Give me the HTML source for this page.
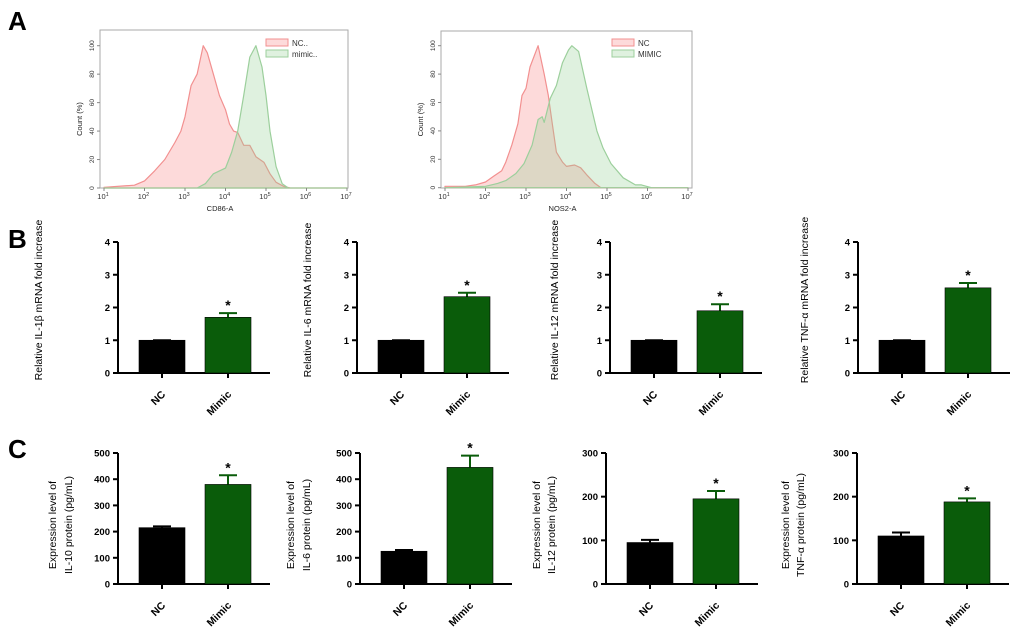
<!DOCTYPE html>
<html><head><meta charset="utf-8"><style>
html,body{margin:0;padding:0;background:#fff}
svg{display:block;font-family:"Liberation Sans",sans-serif}
</style></head><body>
<svg id="fig" width="1020" height="632" viewBox="0 0 1020 632">
<text x="8" y="30" font-size="26" font-weight="bold">A</text>
<text x="8" y="248" font-size="26" font-weight="bold">B</text>
<text x="8" y="458" font-size="26" font-weight="bold">C</text>
</svg>
<script>
// Histogram data: [log10 value, count %]
const h1NC=[[1,0.5],[1.5,1.5],[1.75,2],[2,5],[2.25,12],[2.5,20],[2.75,32],[2.9,40],[3.0,50],[3.15,72],[3.3,80],[3.45,100],[3.55,95],[3.7,80],[3.85,65],[4.0,55],[4.1,45],[4.2,40],[4.3,39],[4.45,30],[4.6,30],[4.75,22],[4.95,18],[5.1,10],[5.25,4],[5.45,1],[5.6,0],[7,0]];
const h1Mimic=[[1,0],[3.3,0],[3.5,3],[3.7,10],[3.85,12],[4.0,14],[4.15,25],[4.3,40],[4.45,65],[4.6,92],[4.75,100],[4.9,85],[5.0,65],[5.1,40],[5.25,15],[5.4,3],[5.55,0],[7,0]];
const h2NC=[[1,1],[1.5,1],[1.75,2],[2,4],[2.2,8],[2.4,12],[2.5,18],[2.65,30],[2.8,45],[2.9,65],[3.0,70],[3.1,85],[3.3,100],[3.45,80],[3.55,65],[3.65,45],[3.75,25],[3.9,18],[4.0,15],[4.2,16],[4.35,14],[4.5,9],[4.7,3],[4.85,0],[7,0]];
const h2Mimic=[[1,0],[2,1],[2.3,3],[2.5,5],[2.75,10],[2.95,17],[3.15,30],[3.3,48],[3.4,50],[3.45,46],[3.6,63],[3.75,72],[3.9,88],[4.05,97],[4.13,100],[4.3,96],[4.5,70],[4.75,40],[4.9,28],[5.1,17],[5.4,7],[5.7,2],[5.85,2],[6.1,0],[7,0]];
const histTicks=["0","20","40","60","80","100"];
const groups=["NC","Mimic"];
const bMeans=[[1,1.7],[1,2.33],[1,1.9],[1,2.6]];
const bErr=[[0,0.13],[0,0.12],[0,0.2],[0,0.15]];
const cMeans=[[215,380],[125,445],[95,195],[110,188]];
const cErr=[[5,35],[5,45],[6,18],[8,8]];
const bTicks=["0","1","2","3","4"];
const cTicks500=["0","100","200","300","400","500"];
const cTicks300=["0","100","200","300"];

const NS="http://www.w3.org/2000/svg";
const svg=document.getElementById('fig');
function mk(tag,attrs,parent,text){const e=document.createElementNS(NS,tag);for(const k in attrs)e.setAttribute(k,attrs[k]);if(text!==undefined)e.textContent=text;(parent||svg).appendChild(e);return e;}

function hist(cfg){
  const g=mk('g',{});
  
  
  const {l,r,t,b,x10,dec,y0,y100}=cfg;
  const xs=v=>x10+(v-1)*dec, ys=c=>y0-(c/100)*(y0-y100);
  const fr=mk('rect',{x:l,y:t,width:r-l,height:b-t,fill:'none',stroke:'#aaa','stroke-width':1},g);
  
  function curve(d,fill,stroke,name){
    let p='M'+xs(d[0][0])+','+ys(0);
    d.forEach(q=>p+=' L'+xs(q[0]).toFixed(1)+','+ys(q[1]).toFixed(1));
    p+=' L'+xs(d[d.length-1][0])+','+ys(0)+'Z';
    const e=mk('path',{d:p,fill:fill,stroke:stroke,'stroke-width':1.2,'stroke-linejoin':'round'},g);
    
  }
  curve(cfg.nc,'rgba(250,150,150,0.35)','#f29090','histogram-nc');
  curve(cfg.mi,'rgba(150,210,150,0.30)','#9ccf9c','histogram-mimic');
  histTicks.forEach((s,i)=>{const y=ys(+s);
    mk('line',{x1:l-3,x2:l,y1:y,y2:y,stroke:'#888'},g);
    const tx=mk('text',{x:l-6,y:y,'font-size':6.5,'text-anchor':'middle',fill:'#333',transform:`rotate(-90 ${l-6} ${y})`},g,s);
    });
  for(let k=1;k<=7;k++){const x=xs(k);
    mk('line',{x1:x,x2:x,y1:b,y2:b+3,stroke:'#888'},g);
    const tx=mk('text',{x:x-1,y:b+11,'font-size':7.5,'text-anchor':'middle',fill:'#333'},g);
    
    mk('tspan',{},tx,'10');mk('tspan',{dy:-3,'font-size':5.5},tx,String(k));}
  const yt=mk('text',{x:l-18,y:(t+b)/2+10,'font-size':7.5,'text-anchor':'middle',fill:'#222',transform:`rotate(-90 ${l-18} ${(t+b)/2+10})`},g,'Count (%)');
  
  const xt=mk('text',{x:(l+r)/2-4,y:b+23,'font-size':7.5,'text-anchor':'middle',fill:'#222'},g,cfg.xl);
  
  [[cfg.leg[0],'rgba(250,150,150,0.35)','#f29090',cfg.legs[0]],[cfg.leg[0],'rgba(150,210,150,0.30)','#9ccf9c',cfg.legs[1]]].forEach((e,i)=>{
    const y=cfg.leg[1]+i*11;
    const le=mk('g',{},g);
    mk('rect',{x:e[0],y:y-4,width:22,height:7,fill:e[1],stroke:e[2]},le);
    mk('text',{x:e[0]+26,y:y+3,'font-size':8,fill:'#333'},le,e[3]);});
}
hist({name:'histogram-cd86',l:100,r:348,t:30,b:188,x10:104,dec:40.5,y0:188,y100:45.7,nc:h1NC,mi:h1Mimic,xl:'CD86-A',leg:[266,43],legs:['NC..','mimic..']});
hist({name:'histogram-nos2',l:441,r:692,t:31,b:188,x10:445,dec:40.5,y0:187.7,y100:45.7,nc:h2NC,mi:h2Mimic,xl:'NOS2-A',leg:[612,43],legs:['NC','MIMIC']});

function bars(cfg){
  const g=mk('g',{});
  
  
  const ax=cfg.ax,y0=cfg.y0,yT=cfg.yTop,max=cfg.max;
  const ys=v=>y0-(v/max)*(y0-yT);
  const colors=['#000','#0a5c0a'];
  const offs=[[21,67],[87,133]];
  mk('line',{x1:ax,x2:ax,y1:yT,y2:y0+1,stroke:'#000','stroke-width':2},g);
  mk('line',{x1:ax-1,x2:ax+152,y1:y0,y2:y0,stroke:'#000','stroke-width':2},g);
  cfg.ticks.forEach(s=>{const y=ys(+s);
    mk('line',{x1:ax-5,x2:ax,y1:y,y2:y,stroke:'#000','stroke-width':2},g);
    const tx=mk('text',{x:ax-8,y:y+3.5,'font-size':9.5,'font-weight':'bold','text-anchor':'end'},g,s);
    });
  groups.forEach((gr,i)=>{
    const x1=ax+offs[i][0],x2=ax+offs[i][1],cx=(x1+x2)/2,v=cfg.means[i],e=cfg.err[i];
    const top=ys(v+e);
    mk('line',{x1:cx,x2:cx,y1:ys(v),y2:top,stroke:colors[i],'stroke-width':2},g);
    mk('line',{x1:cx-9,x2:cx+9,y1:top,y2:top,stroke:colors[i],'stroke-width':2},g);
    const r=mk('rect',{x:x1,y:ys(v),width:x2-x1,height:y0-ys(v),fill:colors[i],stroke:'#000','stroke-width':0.6},g);
    
    mk('line',{x1:cx,x2:cx,y1:y0,y2:y0+5,stroke:'#000','stroke-width':2},g);
    if(i===1){const s=mk('text',{x:cx,y:top-3,'font-size':14,'font-weight':'bold','text-anchor':'middle'},g,'*');
      }
    const lx=cx+4,ly=y0+22;
    const t=mk('text',{x:lx,y:ly,'font-size':10.5,'font-weight':'bold','text-anchor':'end',transform:`rotate(-45 ${lx} ${ly})`},g,gr);
    
  });
  cfg.labels.forEach((s,k)=>{const x=cfg.lx[k],y=cfg.ly;
    const t=mk('text',{x:x,y:y,'font-size':10.5,'text-anchor':'middle',transform:`rotate(-90 ${x} ${y})`},g,s);
    });
}
const bNames=['IL-1β','IL-6','IL-12','TNF-α'];
const bAx=[118,357,610,858];
const bLx=[42,311,558,808];
bNames.forEach((n,i)=>bars({name:'bar-chart-mrna-'+i,ax:bAx[i],y0:373,yTop:242,max:4,ticks:bTicks,means:bMeans[i],err:bErr[i],labels:['Relative '+n+' mRNA fold increase'],lx:[bLx[i]],ly:300}));
const cAx=[118,360,606,857];
const cMax=[500,500,300,300];
const cNames=['IL-10','IL-6','IL-12','TNF-α'];
const cLx=[[56,72],[294,310],[540,555],[789,804]];
cNames.forEach((n,i)=>bars({name:'bar-chart-protein-'+i,ax:cAx[i],y0:584,yTop:453,max:cMax[i],ticks:cMax[i]===500?cTicks500:cTicks300,means:cMeans[i],err:cErr[i],labels:['Expression level of',n+'  protein (pg/mL)'],lx:cLx[i],ly:525}));
</script>
</body></html>
